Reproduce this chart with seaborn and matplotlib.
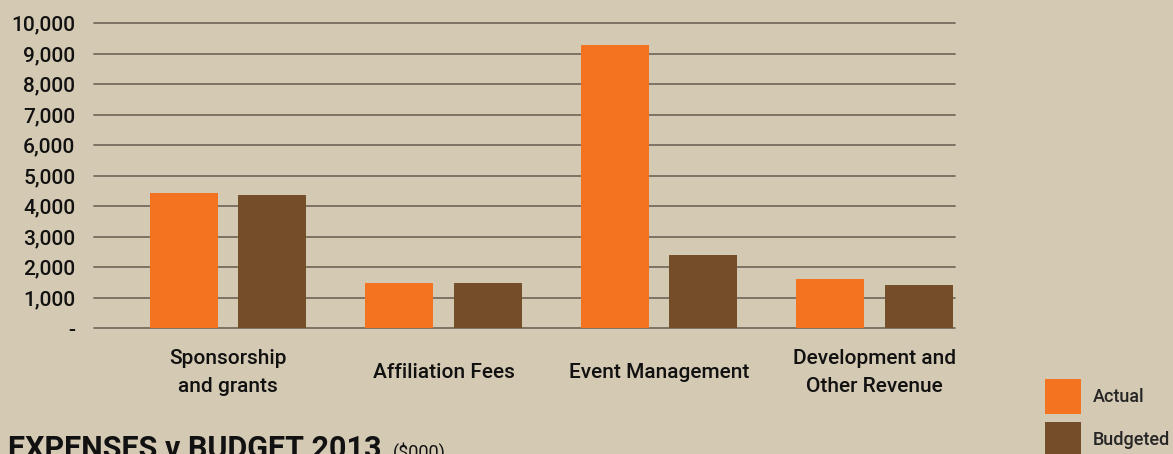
import matplotlib
matplotlib.use("Agg")
import matplotlib.pyplot as plt
import seaborn as sns
import pandas as pd
from matplotlib.patches import Patch

categories = ["Sponsorship\nand grants", "Affiliation Fees", "Event Management", "Development and\nOther Revenue"]
actual = [4440, 1490, 9290, 1620]
budgeted = [4370, 1490, 2400, 1420]
series_names = ["Actual", "Budgeted"]
yticks = [0, 1000, 2000, 3000, 4000, 5000, 6000, 7000, 8000, 9000, 10000]
ytick_labels = ["-", "1,000", "2,000", "3,000", "4,000", "5,000", "6,000", "7,000", "8,000", "9,000", "10,000"]

BG = "#d4c9b3"
ORANGE = "#f47321"
BROWN = "#744d29"
TXT = "#111111"

sns.set_theme(style="white")
plt.rcParams["font.family"] = ["Roboto", "DejaVu Sans"]

df = pd.DataFrame({
    "category": categories * 2,
    "value": actual + budgeted,
    "series": [series_names[0]] * len(categories) + [series_names[1]] * len(categories),
})

fig = plt.figure(figsize=(11.73, 4.54), dpi=100, facecolor=BG)
ax = fig.add_axes([94 / 1173, 1 - 328.3 / 454, (955 - 94) / 1173, (328.3 - 23) / 454])
ax.set_facecolor(BG)

sns.barplot(data=df, x="category", y="value", hue="series",
            palette=[ORANGE, BROWN], width=0.82, gap=0.23,
            saturation=1, legend=False, ax=ax, zorder=3, linewidth=0, edgecolor="none")

ax.set_xlim(-0.622, 3.374)
ax.set_ylim(0, 10000)
ax.set_yticks(yticks)
ax.set_yticklabels(ytick_labels)
for sp in ax.spines.values():
    sp.set_visible(False)
ax.yaxis.grid(True, color="#776b5f", linewidth=1.3)
for gl in ax.get_ygridlines():
    gl.set_clip_on(False)
ax.set_axisbelow(True)
ax.tick_params(axis="y", length=0, pad=13.5, labelsize=15, labelcolor=TXT)
ax.tick_params(axis="x", length=0, pad=32, labelsize=15, labelcolor=TXT)
ax.set_xlabel("")
ax.set_ylabel("")
for lbl in ax.get_xticklabels() + ax.get_yticklabels():
    lbl.set_fontweight("medium")
for lbl in ax.get_xticklabels():
    lbl.set_verticalalignment("center")
    lbl.set_linespacing(1.6)

handles = [Patch(facecolor=ORANGE, edgecolor="none"), Patch(facecolor=BROWN, edgecolor="none")]
fig.legend(handles, series_names, loc="upper left", bbox_to_anchor=(1045 / 1173, 1 - 379 / 454),
           frameon=False, handlelength=2.0, handleheight=2.6,
           labelspacing=0.45, handletextpad=0.65, borderpad=0, borderaxespad=0,
           prop={"weight": "medium", "size": 13})

fig.text(8 / 1173, 1 - 458 / 454, "EXPENSES v BUDGET 2013", fontsize=22, fontweight="bold",
         color=TXT, va="baseline", ha="left")
fig.text(393 / 1173, 1 - 458 / 454, "($000)", fontsize=13, color=TXT, va="baseline", ha="left")

fig.savefig("out.png", dpi=100, facecolor=BG)
